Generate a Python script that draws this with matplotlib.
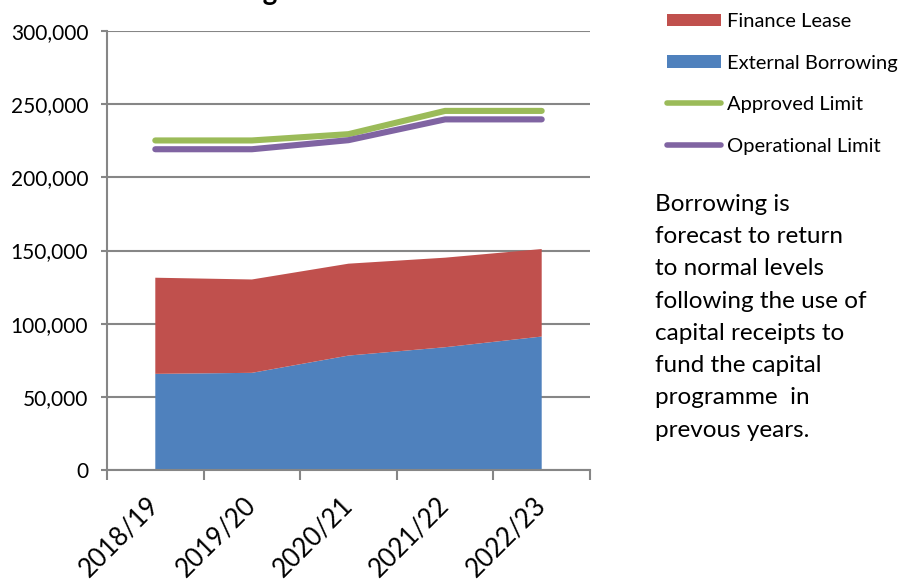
import matplotlib
matplotlib.use("Agg")
import matplotlib.pyplot as plt
from matplotlib.patches import Patch
from matplotlib.lines import Line2D
from matplotlib.ticker import FuncFormatter, FixedLocator
import matplotlib.transforms as mtransforms

plt.rcParams['font.family'] = ['Lato', 'DejaVu Sans']

# data (GBP 000s)
years = ['2018/19', '2019/20', '2020/21', '2021/22', '2022/23']
external_borrowing = [65700, 66400, 78200, 83900, 91200]
finance_lease = [65700, 63800, 62800, 61200, 59800]
approved_limit = [225200, 225200, 229500, 245400, 245400]
operational_limit = [219200, 219200, 225400, 239600, 239600]

note = ("Borrowing is\nforecast to return\nto normal levels\nfollowing the use of\n"
        "capital receipts to\nfund the capital\nprogramme  in\nprevous years.")

c_red = '#C0504D'
c_blue = '#4F81BD'
c_green = '#9BBB59'
c_purple = '#8064A2'
c_grey = '#868686'

fig = plt.figure(figsize=(9.06, 5.85), dpi=100)
ax = fig.add_axes([107/906, 1 - 470/585, (590 - 107)/906, (470 - 31)/585])

xs = list(range(len(years)))
ax.stackplot(xs, external_borrowing, finance_lease, colors=[c_blue, c_red],
             linewidth=0, zorder=2)
ax.plot(xs, approved_limit, color=c_green, lw=4.4, solid_capstyle='round',
        solid_joinstyle='round', zorder=3)
ax.plot(xs, operational_limit, color=c_purple, lw=4.4, solid_capstyle='round',
        solid_joinstyle='round', zorder=3)

ax.set_xlim(-0.5, len(years) - 0.5)
ax.set_ylim(0, 300000)
ax.set_yticks(range(0, 300001, 50000))
ax.yaxis.set_major_formatter(FuncFormatter(lambda v, p: f"{int(v):,}"))
ax.grid(axis='y', color=c_grey, lw=1.5, zorder=1)
ax.set_axisbelow(True)

# category labels at centres, tick marks at boundaries
ax.set_xticks(xs)
ax.set_xticklabels(years, rotation=45, ha='right', va='top', rotation_mode='anchor',
                   fontsize=18.5)
ax.xaxis.set_minor_locator(FixedLocator([i - 0.5 for i in range(len(years) + 1)]))
ax.tick_params(axis='x', which='major', length=0, pad=16)
ax.tick_params(axis='x', which='minor', length=7.5, width=1.5, color=c_grey)
ax.tick_params(axis='y', length=4.5, width=1.5, color=c_grey, pad=9, labelsize=15)
for lab in ax.get_xticklabels():
    lab.set_transform(lab.get_transform() +
                      mtransforms.ScaledTranslation(-9/100, 0, fig.dpi_scale_trans))

for s in ['top', 'right']:
    ax.spines[s].set_visible(False)
for s in ['left', 'bottom']:
    ax.spines[s].set_color(c_grey)
    ax.spines[s].set_linewidth(1.5)

# title cut off at the top edge, only the descender shows
fig.text(278/906, 1.0, "Borrowing", ha='right', va='baseline', fontsize=20,
         fontweight='bold')

handles = [Patch(facecolor=c_red, edgecolor='none'),
           Patch(facecolor=c_blue, edgecolor='none'),
           Line2D([], [], color=c_green, lw=4, solid_capstyle='round'),
           Line2D([], [], color=c_purple, lw=4, solid_capstyle='round')]
labels = ['Finance Lease', 'External Borrowing', 'Approved Limit', 'Operational Limit']
fig.legend(handles, labels, loc='upper left', bbox_to_anchor=(659/906, 1 - 5/585),
           frameon=False, fontsize=14.5, handlelength=2.7, handleheight=0.6,
           handletextpad=0.3, labelspacing=1.22, borderaxespad=0)

fig.text(655/906, 1 - 194/585, note, ha='left', va='top', fontsize=17.5,
         linespacing=1.66)

fig.savefig('out.png', dpi=100)
